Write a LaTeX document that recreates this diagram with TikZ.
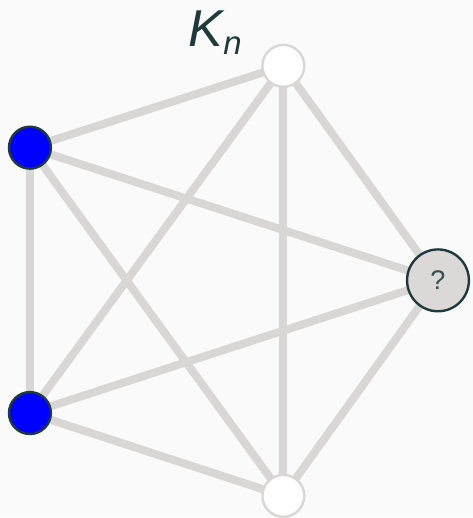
\documentclass[tikz,border=0pt]{standalone}
\usepackage{fontspec}
\setsansfont{Liberation Sans}
\definecolor{bgcol}{HTML}{FAFAFA}
\definecolor{edgecol}{HTML}{D9D6D6}
\definecolor{darkcol}{HTML}{1F3A3D}
\definecolor{qcol}{HTML}{DBD8D7}
\begin{document}
\begin{tikzpicture}[x=1pt,y=-1pt,
 vtx/.style={circle,draw,line width=2.4pt,minimum size=42pt,inner sep=0pt},
 free/.style={vtx,draw=edgecol,fill=white},
 col/.style={vtx,draw=darkcol,fill=blue},
 ask/.style={vtx,draw=darkcol,fill=qcol,minimum size=62pt,
  font=\sffamily\fontsize{27}{27}\selectfont,text=darkcol!90},
 edge/.style={draw=edgecol,line width=8pt}]
\fill[bgcol] (0,0) rectangle (474,518);
\coordinate (top) at (284,66);
\coordinate (lt) at (30,148);
\coordinate (lb) at (30,414);
\coordinate (bot) at (284,497);
\coordinate (rt) at (439,281);
% all pairs
\foreach \a/\b in {top/lt,top/lb,top/bot,top/rt,lt/lb,lt/bot,lt/rt,lb/bot,lb/rt,bot/rt}
 \draw[edge] (\a)--(\b);
\node[free] (v1) at (top) {};
\node[col] (v2) at (lt) {};
\node[col] (v3) at (lb) {};
\node[free] (v4) at (bot) {};
\node[ask] (v5) at (rt) {?};
\node[anchor=base west,inner sep=0pt,text=darkcol,
 font=\sffamily\itshape\fontsize{52}{52}\selectfont] (title) at (189,47)
 {K\raisebox{-8pt}{\fontsize{33}{33}\selectfont n}};
\end{tikzpicture}
\end{document}
